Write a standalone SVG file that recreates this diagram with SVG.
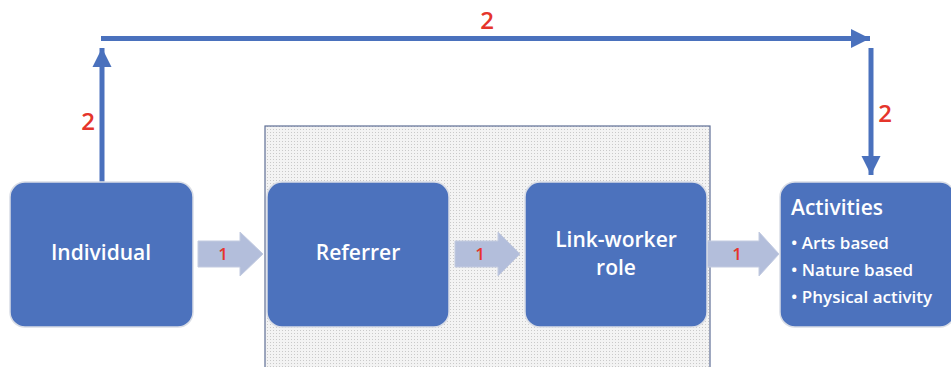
<svg xmlns="http://www.w3.org/2000/svg" width="951" height="367" viewBox="0 0 951 367">
<defs>
<pattern id="dots" width="3" height="3" patternUnits="userSpaceOnUse">
<rect width="3" height="3" fill="#f3f3f3"/>
<rect x="0" y="0" width="1" height="1" fill="#c9c9c9"/>
</pattern>
<marker id="ah" viewBox="0 0 10 10" refX="10" refY="5" markerWidth="3.8" markerHeight="4" orient="auto" markerUnits="strokeWidth">
<path d="M0,0 L10,5 L0,10 Z" fill="#4a71bd"/>
</marker>
</defs>
<style>
.box{fill:#4c72bd;stroke:#d9dde6;stroke-width:1.5}
.lbl{fill:#ffffff;font-family:"Open Sans","Noto Sans",sans-serif;font-size:21px;font-weight:600;text-anchor:middle}
.red{fill:#e5352b;font-family:"Open Sans","Noto Sans",sans-serif;text-anchor:middle}
.big{font-size:24px;font-weight:600}
.small{font-size:17px;font-weight:600}
.blk{fill:#b3bedb;stroke:#c3cbe0;stroke-width:1}
.ln{stroke:#4a71bd;stroke-width:5;fill:none}
.bul{fill:#ffffff;font-family:"Open Sans","Noto Sans",sans-serif;font-size:17px;font-weight:600}
</style>
<rect id="group" x="265" y="126" width="445" height="250" fill="url(#dots)" stroke="#5f6f96" stroke-width="1.2"/>
<g id="connectors">
<line class="ln" x1="102" y1="182" x2="102" y2="48" marker-end="url(#ah)"/>
<line class="ln" x1="101" y1="38.5" x2="870" y2="38.5" marker-end="url(#ah)"/>
<line class="ln" x1="871" y1="48" x2="871" y2="175" marker-end="url(#ah)"/>
<path class="blk" d="M198,241 H240 V232 L263,254 L240,276 V267 H198 Z"/>
<path class="blk" d="M455,241 H498 V232 L520,254 L498,276 V267 H455 Z"/>
<path class="blk" d="M706,241 H759 V232 L779,254 L759,276 V267 H706 Z"/>
<text class="red big" x="487" y="29">2</text>
<text class="red big" x="88" y="130">2</text>
<text class="red big" x="885" y="122">2</text>
<text class="red small" x="223" y="260">1</text>
<text class="red small" x="480" y="260">1</text>
<text class="red small" x="737" y="260">1</text>
</g>
<g id="individual">
<rect class="box" x="10" y="182" width="183" height="145" rx="15"/>
<text class="lbl" x="101" y="260">Individual</text>
</g>
<g id="referrer">
<rect class="box" x="267" y="182" width="182" height="145" rx="15"/>
<text class="lbl" x="358" y="260">Referrer</text>
</g>
<g id="linkworker">
<rect class="box" x="525" y="182" width="182" height="145" rx="15"/>
<text class="lbl" x="616" y="247">Link-worker</text>
<text class="lbl" x="616" y="275">role</text>
</g>
<g id="activities">
<rect class="box" x="780" y="182" width="175" height="145" rx="15"/>
<text class="bul" x="791" y="215" style="font-size:21px">Activities</text>
<text class="bul" x="791" y="249">• Arts based</text>
<text class="bul" x="791" y="276">• Nature based</text>
<text class="bul" x="791" y="303">• Physical activity</text>
</g>
</svg>
